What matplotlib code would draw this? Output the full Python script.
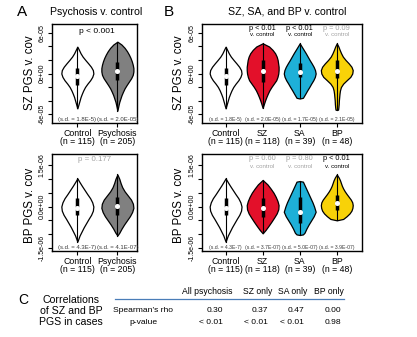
import matplotlib.pyplot as plt
import numpy as np

plt.rcParams['font.family'] = ['Liberation Sans', 'DejaVu Sans']

W, H = 417, 337
fig = plt.figure(figsize=(W / 100, H / 100), dpi=100)

GRAY_TXT = '#a3a3a3'

# group labels and fills
labels_a = ["Control\n(n = 115)", "Psychosis\n(n = 205)"]
labels_b = ["Control\n(n = 115)", "SZ\n(n = 118)", "SA\n(n = 39)", "BP\n(n = 48)"]
colors_a = ["white", "#808080"]
colors_b = ["white", "#E3102A", "#1EB0D8", "#F8D208"]

# ---- SZ PGS residuals (units of 1e-05): violin outline = level, relative half-width
sz_ctrl_y = [3.97, 3.5, 3.0, 2.5, 2.0, 1.5, 1.0, 0.5, 0.0, -0.5, -1.0, -1.5, -2.0, -2.5, -3.0, -3.5, -4.0, -4.5, -5.16]
sz_ctrl_w = [0, 0.1, 0.2, 0.33, 0.5, 0.68, 0.85, 0.97, 1.0, 0.93, 0.8, 0.63, 0.48, 0.37, 0.28, 0.2, 0.14, 0.08, 0]
sz_psy_y = [4.71, 4.3, 3.8, 3.3, 2.8, 2.3, 1.8, 1.3, 0.8, 0.3, -0.2, -0.7, -1.2, -1.7, -2.2, -2.7, -3.2, -3.7, -4.2, -4.7, -5.5]
sz_psy_w = [0, 0.25, 0.45, 0.6, 0.72, 0.82, 0.9, 0.96, 1.0, 1.0, 0.96, 0.86, 0.72, 0.58, 0.45, 0.35, 0.26, 0.19, 0.12, 0.07, 0]
sz_sz_y = [4.47, 4.0, 3.5, 3.0, 2.5, 2.0, 1.5, 1.0, 0.5, 0.0, -0.5, -1.0, -1.5, -2.0, -2.5, -3.0, -3.5, -4.0, -4.5, -5.1]
sz_sz_w = [0, 0.4, 0.62, 0.78, 0.88, 0.94, 0.97, 1.0, 1.0, 0.98, 0.93, 0.85, 0.7, 0.55, 0.42, 0.32, 0.23, 0.15, 0.08, 0]
sz_sa_y = [4.47, 4.0, 3.5, 3.0, 2.5, 2.0, 1.5, 1.0, 0.5, 0.0, -0.5, -1.0, -1.5, -2.0, -2.5, -3.0, -3.4, -3.6, -3.7]
sz_sa_w = [0, 0.12, 0.25, 0.38, 0.5, 0.62, 0.75, 0.87, 0.96, 1.0, 0.95, 0.85, 0.72, 0.6, 0.47, 0.35, 0.25, 0.2, 0]
sz_bp_y = [4.47, 4.0, 3.5, 3.0, 2.5, 2.0, 1.5, 1.0, 0.5, 0.0, -0.5, -1.0, -1.5, -2.0, -2.5, -3.0, -3.5, -4.0, -4.5, -5.0, -5.35, -5.4]
sz_bp_w = [0, 0.1, 0.18, 0.27, 0.38, 0.55, 0.75, 0.92, 1.0, 0.97, 0.85, 0.62, 0.4, 0.26, 0.2, 0.17, 0.15, 0.13, 0.12, 0.1, 0.08, 0]
# boxes: q1, median, q3
sz_ctrl_box = [-1.7, -0.37, 0.77]
sz_psy_box = [-0.96, 0.37, 1.75]
sz_sz_box = [-1.2, 0.37, 2.0]
sz_sa_box = [-0.56, 0.27, 1.5]
sz_bp_box = [-0.72, 0.42, 2.0]

# ---- BP PGS residuals (units of 1e-06)
bp_ctrl_y = [1.02, 0.9, 0.75, 0.6, 0.45, 0.3, 0.15, 0.0, -0.15, -0.3, -0.45, -0.6, -0.75, -0.9, -1.05, -1.27]
bp_ctrl_w = [0, 0.12, 0.28, 0.45, 0.62, 0.8, 0.93, 1.0, 0.97, 0.86, 0.7, 0.55, 0.4, 0.27, 0.14, 0]
bp_psy_y = [1.16, 1.0, 0.85, 0.7, 0.55, 0.4, 0.25, 0.1, -0.05, -0.2, -0.35, -0.5, -0.65, -0.8, -0.95, -1.05]
bp_psy_w = [0, 0.12, 0.2, 0.3, 0.45, 0.65, 0.85, 0.97, 1.0, 0.92, 0.78, 0.6, 0.42, 0.26, 0.12, 0]
bp_sz_y = [0.96, 0.8, 0.65, 0.5, 0.35, 0.2, 0.05, -0.1, -0.25, -0.4, -0.55, -0.7, -0.85, -0.97]
bp_sz_w = [0, 0.3, 0.5, 0.68, 0.82, 0.93, 1.0, 0.98, 0.88, 0.72, 0.55, 0.37, 0.18, 0]
bp_sa_y = [0.92, 0.9, 0.75, 0.6, 0.45, 0.3, 0.15, 0.0, -0.19, -0.35, -0.5, -0.65, -0.8, -0.95, -1.01, -1.03]
bp_sa_w = [0, 0.2, 0.32, 0.44, 0.56, 0.68, 0.8, 0.9, 1.0, 0.88, 0.72, 0.56, 0.42, 0.3, 0.2, 0]
bp_bp_y = [1.16, 1.05, 0.95, 0.85, 0.75, 0.65, 0.55, 0.45, 0.35, 0.25, 0.15, 0.05, -0.05, -0.15, -0.25, -0.35, -0.45, -0.5]
bp_bp_w = [0, 0.12, 0.2, 0.26, 0.32, 0.4, 0.5, 0.62, 0.75, 0.88, 0.97, 1.0, 0.98, 0.92, 0.8, 0.62, 0.4, 0]
bp_ctrl_box = [-0.31, -0.04, 0.3]
bp_psy_box = [-0.31, 0.02, 0.35]
bp_sz_box = [-0.37, -0.04, 0.31]
bp_sa_box = [-0.58, -0.19, 0.35]
bp_bp_box = [-0.13, 0.11, 0.41]

# standard deviations printed under each violin
sd_sz_a = ["(s.d. = 1.8E-5)", "(s.d. = 2.0E-05)"]
sd_sz_b = ["(s.d. = 1.8E-5)", "(s.d. = 2.0E-05)", "(s.d. = 1.7E-05)", "(s.d. = 2.1E-05)"]
sd_bp_a = ["(s.d. = 4.3E-7)", "(s.d. = 4.1E-07)"]
sd_bp_b = ["(s.d. = 4.3E-7)", "(s.d. = 3.7E-07)", "(s.d. = 5.0E-07)", "(s.d. = 3.9E-07)"]

# p-values vs control for SZ, SA, BP
p_sz_b = ["p < 0.01", "p < 0.01", "p = 0.09"]
p_sz_b_sig = [True, True, False]
p_bp_b = ["p = 0.60", "p = 0.80", "p < 0.01"]
p_bp_b_sig = [False, False, True]

# correlation table
tab_cols = ["All psychosis", "SZ only", "SA only", "BP only"]
tab_rho = ["0.30", "0.37", "0.47", "0.00"]
tab_p = ["< 0.01", "< 0.01", "< 0.01", "0.98"]


def px_rect(l, t, r, b):
    return [l / W, 1 - b / H, (r - l) / W, (b - t) / H]


def fxy(x, y):
    return x / W, 1 - y / H


def draw_violins(ax, ys, ws, boxes, colors, scale, hw):
    for i, (y, w, bx, c) in enumerate(zip(ys, ws, boxes, colors)):
        pos = i + 1
        y = np.array(y) * scale
        w = np.array(w) * hw
        ax.fill_betweenx(y, pos - w, pos + w, facecolor=c, edgecolor='black', linewidth=0.9, zorder=2)
        ax.plot([pos, pos], [y.min(), y.max()], color='black', lw=0.8, zorder=3)
        ax.plot([pos, pos], [bx[0] * scale, bx[2] * scale], color='black', lw=2.5,
                solid_capstyle='butt', zorder=4)
        ax.plot(pos, bx[1] * scale, 'o', color='white', ms=2.6, mec='white', zorder=5)


def style_axes(ax, xlim, ylim, xlabels, yticks, ylabels):
    ax.set_xlim(*xlim)
    ax.set_ylim(*ylim)
    for s in ax.spines.values():
        s.set_linewidth(1.0)
    ax.set_xticks(range(1, len(xlabels) + 1))
    ax.set_xticklabels(xlabels, fontsize=6.3, linespacing=0.95)
    ax.set_yticks(yticks)
    ax.set_yticklabels(ylabels, fontsize=5.0)
    for lbl in ax.get_yticklabels():
        lbl.set_rotation(90)
        lbl.set_va('center')
    ax.tick_params(axis='both', length=3, width=0.8, direction='out')
    ax.tick_params(axis='x', pad=1.2)
    ax.tick_params(axis='y', pad=1.5)


def sd_texts(ax, texts, frac, size):
    for i, t in enumerate(texts):
        ax.text(i + 1, frac, t, transform=ax.get_xaxis_transform(), ha='center', va='center',
                fontsize=size, color='#3a3a3a')


sz_ticks = np.array([-6, -4, -2, 0, 2, 4, 6]) * 1e-5
sz_tlabels = ['-6e-05', '', '', '0e+00', '', '', '6e-05']
bp_ticks = np.array([-1.5, -1.0, -0.5, 0, 0.5, 1.0, 1.5]) * 1e-6
bp_tlabels = ['-1.5e-06', '', '', '0.0e+00', '', '', '1.5e-06']
sz_lim = (-7.33e-5, 7.33e-5)
bp_lim = (-1.61e-6, 1.9e-6)

axA1 = fig.add_axes(px_rect(52, 24, 137, 123))
axB1 = fig.add_axes(px_rect(201.5, 24, 362, 123))
axA2 = fig.add_axes(px_rect(52, 154, 137, 251))
axB2 = fig.add_axes(px_rect(201.5, 154, 362, 251))

draw_violins(axA1, [sz_ctrl_y, sz_psy_y], [sz_ctrl_w, sz_psy_w], [sz_ctrl_box, sz_psy_box],
             colors_a, 1e-5, 0.4)
draw_violins(axB1, [sz_ctrl_y, sz_sz_y, sz_sa_y, sz_bp_y], [sz_ctrl_w, sz_sz_w, sz_sa_w, sz_bp_w],
             [sz_ctrl_box, sz_sz_box, sz_sa_box, sz_bp_box], colors_b, 1e-5, 0.43)
draw_violins(axA2, [bp_ctrl_y, bp_psy_y], [bp_ctrl_w, bp_psy_w], [bp_ctrl_box, bp_psy_box],
             colors_a, 1e-6, 0.4)
draw_violins(axB2, [bp_ctrl_y, bp_sz_y, bp_sa_y, bp_bp_y], [bp_ctrl_w, bp_sz_w, bp_sa_w, bp_bp_w],
             [bp_ctrl_box, bp_sz_box, bp_sa_box, bp_bp_box], colors_b, 1e-6, 0.43)

style_axes(axA1, (0.367, 2.49), sz_lim, labels_a, sz_ticks, sz_tlabels)
style_axes(axB1, (0.35, 4.68), sz_lim, labels_b, sz_ticks, sz_tlabels)
style_axes(axA2, (0.367, 2.49), bp_lim, labels_a, bp_ticks, bp_tlabels)
style_axes(axB2, (0.35, 4.68), bp_lim, labels_b, bp_ticks, bp_tlabels)

sd_texts(axA1, sd_sz_a, 0.035, 4.3)
sd_texts(axB1, sd_sz_b, 0.035, 3.7)
sd_texts(axA2, sd_bp_a, 0.032, 4.3)
sd_texts(axB2, sd_bp_b, 0.032, 3.7)

# p-values
axA1.text(1.49, 0.92, "p < 0.001", transform=axA1.get_xaxis_transform(), ha='center', va='center',
          fontsize=6)
axA2.text(1.44, 0.94, "p = 0.177", transform=axA2.get_xaxis_transform(), ha='center', va='center',
          fontsize=5.7, color=GRAY_TXT)
for ax, ptxt, sig, f1, f2 in [(axB1, p_sz_b, p_sz_b_sig, 0.957, 0.896),
                              (axB2, p_bp_b, p_bp_b_sig, 0.956, 0.869)]:
    for i, (t, s) in enumerate(zip(ptxt, sig)):
        c = 'black' if s else GRAY_TXT
        ax.text(i + 2, f1, t, transform=ax.get_xaxis_transform(), ha='center', va='center',
                fontsize=5.3, color=c)
        ax.text(i + 2, f2, "v. control", transform=ax.get_xaxis_transform(), ha='center',
                va='center', fontsize=4.4, color=c)

# axis titles
for x in (30, 179):
    fig.text(*fxy(x, 73), "SZ PGS v. cov", rotation=90, ha='center', va='center', fontsize=8.3)
    fig.text(*fxy(x, 205), "BP PGS v. cov", rotation=90, ha='center', va='center', fontsize=8.3)

# panel letters and headings
fig.text(*fxy(22, 12), "A", ha='center', va='center', fontsize=11)
fig.text(*fxy(169, 12), "B", ha='center', va='center', fontsize=11)
fig.text(*fxy(96, 12), "Psychosis v. control", ha='center', va='center', fontsize=7.6)
fig.text(*fxy(287, 12), "SZ, SA, and BP v. control", ha='center', va='center', fontsize=7.6)

# panel C table
fig.text(*fxy(23, 300), "C", ha='center', va='center', fontsize=10)
fig.text(*fxy(71, 311), "Correlations\nof SZ and BP\nPGS in cases", ha='center', va='center',
         fontsize=7.6, linespacing=1.15)
col_x = [207, 258, 293, 329]
val_right = [223, 268, 304, 341]
for x, t in zip(col_x, tab_cols):
    fig.text(*fxy(x, 292), t, ha='center', va='center', fontsize=6.2)
fig.add_artist(plt.Line2D([115 / W, 344 / W], [1 - 299 / H, 1 - 299 / H], color='#4a7db8', lw=0.9))
fig.text(*fxy(143, 311), "Spearman\u2019s rho", ha='center', va='center', fontsize=6.1)
fig.text(*fxy(143, 322), "p-value", ha='center', va='center', fontsize=6.1)
for x, r, p in zip(val_right, tab_rho, tab_p):
    fig.text(*fxy(x, 311), r, ha='right', va='center', fontsize=6.1)
    fig.text(*fxy(x, 322), p, ha='right', va='center', fontsize=6.1)

fig.savefig('out.png', dpi=100)
